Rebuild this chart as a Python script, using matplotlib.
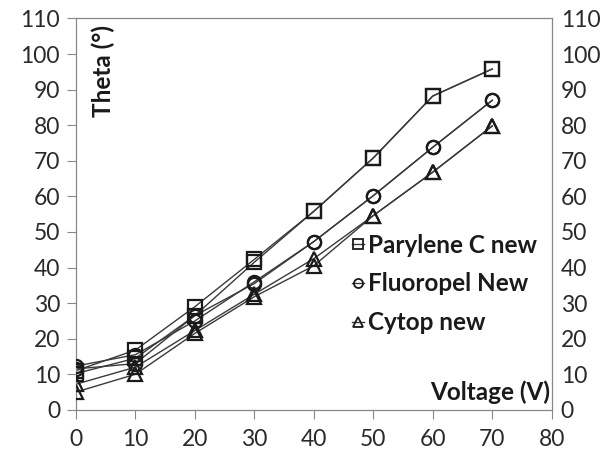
import matplotlib
matplotlib.use("Agg")
import matplotlib.pyplot as plt
from matplotlib.lines import Line2D

plt.rcParams['font.family'] = ['Lato', 'DejaVu Sans']

voltage = [0, 10, 20, 30, 40, 50, 60, 70]
parylene_fwd = [11.0, 16.8, 29.0, 42.3, 55.8, 70.8, 88.2, 95.8]
parylene_bwd = [10.2, 14.5, 26.5, 41.5, 55.8, 70.8, 88.2, 95.8]
fluoropel_fwd = [12.3, 15.5, 25.0, 36.0, 47.3, 60.2, 73.8, 87.0]
fluoropel_bwd = [11.5, 13.0, 26.5, 35.5, 47.3, 60.2, 73.8, 87.0]
cytop_fwd = [7.2, 12.0, 22.3, 32.5, 42.5, 54.6, 66.8, 79.8]
cytop_bwd = [5.0, 10.0, 21.5, 31.8, 40.5, 54.6, 66.8, 79.8]

labels = ["Parylene C new", "Fluoropel New", "Cytop new"]
markers = ["s", "o", "^"]
xticks = list(range(0, 90, 10))
yticks = list(range(0, 120, 10))

fig = plt.figure(figsize=(6.03, 4.61), dpi=100)
ax = fig.add_axes([0.126, 0.111, 0.789, 0.849])

series = [(parylene_fwd, parylene_bwd), (fluoropel_fwd, fluoropel_bwd), (cytop_fwd, cytop_bwd)]
for (fwd, bwd), m in zip(series, markers):
    for ys in (fwd, bwd):
        ax.plot(voltage, ys, color='#3a3a3a', lw=1.0, zorder=2)
        ax.plot(voltage, ys, linestyle='none', marker=m, markersize=9.5,
                markerfacecolor='none', markeredgecolor='#1a1a1a', markeredgewidth=1.6, zorder=3)

ax.set_xlim(0, 80)
ax.set_ylim(0, 110)
ax.set_xticks(xticks)
ax.set_yticks(yticks)
tc = '#2a2a2a'
ax.tick_params(axis='both', direction='out', length=6.5, width=0.8, color='#888888',
               labelsize=16.5, labelcolor=tc, pad=5)
ax.tick_params(axis='x', pad=7)
for s in ax.spines.values():
    s.set_color('#888888')
    s.set_linewidth(0.9)

ax2 = ax.twinx()
ax2.set_ylim(0, 110)
ax2.set_yticks(yticks)
ax2.tick_params(axis='y', length=0, labelsize=16.5, labelcolor=tc, pad=6.5)
for s in ax2.spines.values():
    s.set_visible(False)

ax.text(0.057, 0.983, "Theta (°)", transform=ax.transAxes, rotation=90,
        ha='center', va='top', fontsize=17.5, fontweight='bold', color='#1a1a1a')
ax.text(0.997, 0.026, "Voltage (V)", transform=ax.transAxes,
        ha='right', va='baseline', fontsize=17.5, fontweight='bold', color='#1a1a1a')

handles = [Line2D([0], [0], color='#3a3a3a', lw=1.0, marker=m, markersize=6.5,
                  markerfacecolor='none', markeredgecolor='#1a1a1a', markeredgewidth=1.3)
           for m in markers]
leg = ax.legend(handles, labels, loc='center left', bbox_to_anchor=(0.58, 0.322),
                frameon=False, handlelength=0.5, handletextpad=0.15, labelspacing=0.65,
                borderaxespad=0, borderpad=0, prop={'weight': 'bold', 'size': 17.5})
for t in leg.get_texts():
    t.set_color('#1a1a1a')

fig.savefig("out.png", dpi=100)
